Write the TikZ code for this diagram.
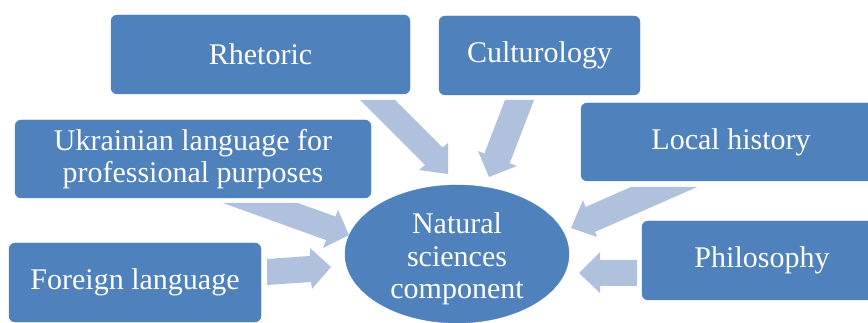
\documentclass[tikz,border=0pt]{standalone}
\usepackage{fontspec}
\setmainfont{Liberation Serif}
\usetikzlibrary{shapes.geometric}
\definecolor{boxblue}{RGB}{79,129,189}
\definecolor{arrowblue}{RGB}{176,193,222}
\begin{document}
\begin{tikzpicture}[x=1pt,y=-1pt,
  box/.style={fill=boxblue,draw=boxblue,rounded corners=6pt,inner sep=0pt,
    text=white,align=center,font=\fontsize{30}{32}\selectfont},
  blockarrow/.style={fill=arrowblue,draw=none}]
\useasboundingbox (0,0) rectangle (868,323);
\clip (0,0) rectangle (868,323);
% boxes
\node[box,minimum width=299pt,minimum height=79pt] (rhet) at (260.5,54.5) {Rhetoric};
\node[box,minimum width=201pt,minimum height=79pt] (cult) at (539.5,55.5) {Culturology};
\node[box,minimum width=356pt,minimum height=78pt] (ukr) at (193,159) {Ukrainian language for\\professional purposes};
\node[box,minimum width=300pt,minimum height=78pt] (loc) at (731,142) {Local history};
\node[box,minimum width=252pt,minimum height=79pt] (for) at (135,282.5) {Foreign language};
\node[box,minimum width=240pt,minimum height=79pt] (phil) at (762,260.5) {Philosophy};
% centre ellipse
\node[ellipse,fill=boxblue,draw=boxblue,minimum width=224pt,minimum height=138pt,inner sep=0pt] (nat) at (457,254) {};
\node[text=white,align=center,font=\fontsize{30}{32.5}\selectfont,inner sep=0pt] (natlabel) at (457,259) {Natural\\sciences\\component};
% block arrows
\fill[blockarrow] (360,100) -- (395,100) -- (442.5,147.5) -- (448,143) -- (448,174) -- (419,170) -- (425,165) -- cycle;
\fill[blockarrow] (505,100) -- (534,100) -- (509.7,163.2) -- (517,166) -- (489,177) -- (478,151) -- (484.4,153.5) -- cycle;
\fill[blockarrow] (223,203) -- (298,203) -- (335.4,216.5) -- (338,210) -- (349,235) -- (323,248) -- (326.1,240.1) -- cycle;
\fill[blockarrow] (267,259) -- (310,256) -- (310,248) -- (331,267) -- (312,289) -- (311,282) -- (267,285) -- cycle;
\fill[blockarrow] (631,187) -- (697,187) -- (595.1,231.9) -- (597,237) -- (571,228) -- (583,200) -- (585.6,207) -- cycle;
\fill[blockarrow] (637,260) -- (600,260) -- (600,252) -- (579,273) -- (600,293) -- (600,286) -- (637,286) -- cycle;
\end{tikzpicture}
\end{document}
